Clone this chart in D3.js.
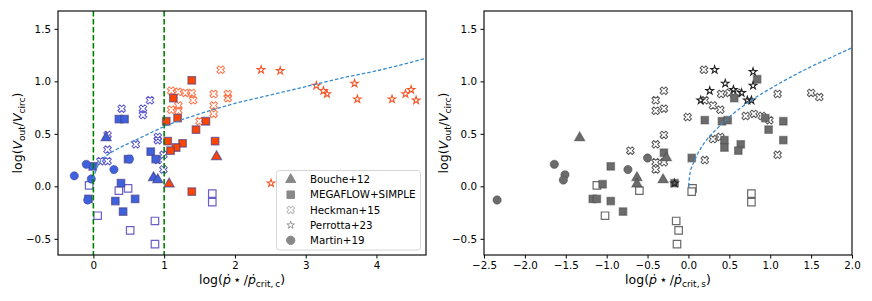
<!DOCTYPE html>
<html lang="en">
<head>
<meta charset="UTF-8">
<script src="https://d3js.org/d3.v7.min.js"></script>
<style>
  body { margin: 0; background: #fff; }
  svg { font-family: "DejaVu Sans", sans-serif; }
</style>
</head>
<body>
<div id="chart"></div>
<script>
// ---- left panel: x = log(pdot*/pdot_crit,c) ----
const leftBouche = [[0.18,0.47],[0.85,0.09],[0.91,0.07],[1.07,0.03],[1.74,0.29]];
const leftMegaflow = [[-0.07,-0.12],[-0.01,0.19],[0.36,0.64],[0.44,0.64],[0.49,0.26],[0.81,0.33],[0.88,0.26],
  [0.39,0.03],[0.31,-0.14],[0.59,-0.12],[0.42,-0.24],
  [1.39,1.01],[1.13,0.84],[1.19,0.65],[1.03,0.62],[1.59,0.62],[1.45,0.54],[1.05,0.43],[1.26,0.41],
  [1.17,0.37],[1.09,0.34],[1.72,0.43],[1.39,-0.05]];
const leftMegaflowOpen = [[-0.06,0.01],[0.36,-0.04],[0.49,-0.02],[0.06,-0.28],[0.52,-0.42],[0.87,-0.33],
  [0.87,-0.55],[1.68,-0.07],[1.68,-0.15]];
const leftHeckman = [[0.20,0.49],[0.40,0.74],[0.70,0.74],[0.70,0.68],[0.80,0.82],[0.20,0.35],[0.60,0.40],
  [0.91,0.47],[0.91,0.44],[0.10,0.24],[0.20,0.24],[0.91,0.25],[0.99,0.30],[0.99,0.16],
  [1.80,1.11],[1.10,0.91],[1.20,0.90],[1.30,0.89],[1.39,0.89],[1.41,0.82],[1.70,0.88],[1.90,0.88],
  [1.90,0.84],[1.20,0.77],[1.70,0.77],[1.10,0.73],[1.20,0.72],[1.70,0.69],[1.50,0.62]];
const leftPerrotta = [[2.37,1.11],[2.64,1.10],[3.15,0.96],[3.25,0.91],[3.30,0.88],[3.69,0.98],[3.73,0.83],
  [4.22,0.83],[4.41,0.88],[4.49,0.92],[4.56,0.82],[2.51,0.03]];
const leftMartin = [[-0.27,0.10],[-0.10,0.21],[-0.03,0.07],[-0.08,-0.13],[0.29,0.16],[0.51,0.26]];
const leftModelX = [0, 0.05, 0.1, 0.2, 0.35, 0.5, 0.75, 1.0, 1.5, 2.0, 2.5, 3.0, 3.5, 4.0, 4.7];
const leftModelY = [0.07, 0.18, 0.24, 0.30, 0.36, 0.41, 0.49, 0.57, 0.69, 0.79, 0.87, 0.95, 1.03, 1.10, 1.22];
const leftVLines = [0, 1];

// ---- right panel: x = log(pdot*/pdot_crit,s) ----
const rightBouche = [[-1.33,0.47],[-0.63,0.09],[-0.63,0.03],[-0.31,0.07],[-0.27,0.28]];
const rightMegaflow = [[-0.95,0.19],[-1.05,0.02],[-1.17,-0.12],[-1.12,-0.12],[-0.95,-0.14],[-0.80,-0.24],
  [-0.30,0.32],[-0.17,0.03],[0.84,1.02],[0.56,0.84],[0.20,0.63],[0.41,0.62],[0.48,0.63],[0.94,0.65],
  [1.16,0.62],[0.98,0.54],[1.16,0.44],[0.44,0.44],[0.44,0.37],[0.64,0.40],[0.61,0.34],[0.04,0.27]];
const rightMegaflowOpen = [[-1.12,0.01],[-0.60,-0.04],[-1.02,-0.28],[-0.15,-0.33],[-0.12,-0.42],[-0.14,-0.55],
  [0.05,-0.02],[0.04,-0.05],[0.77,-0.07],[0.77,-0.15]];
const rightHeckman = [[-0.30,0.91],[-0.40,0.82],[-0.40,0.72],[-0.30,0.74],[-0.01,0.66],[-0.30,0.49],[-0.40,0.40],
  [-0.71,0.34],[-0.40,0.23],[-0.30,0.23],[-0.40,0.16],[0.19,1.11],[0.40,0.88],[0.50,0.89],[0.60,0.89],
  [0.20,0.82],[0.30,0.77],[0.39,0.73],[1.09,0.88],[1.50,0.89],[1.60,0.85],[0.70,0.67],[0.80,0.69],
  [0.90,0.67],[0.99,0.63],[0.30,0.45],[0.39,0.47],[0.20,0.25],[1.09,0.30]];
const rightPerrotta = [[0.32,1.11],[0.79,1.09],[0.79,0.96],[0.45,0.98],[0.26,0.91],[0.55,0.92],[0.65,0.89],
  [0.15,0.82],[0.72,0.82],[0.77,0.82],[-0.17,0.03]];
const rightMartin = [[-2.34,-0.13],[-1.64,0.21],[-1.51,0.11],[-1.53,0.06],[-0.74,0.16],[-0.50,0.27]];
const rightModelX = [0, 0.02, 0.05, 0.1, 0.2, 0.35, 0.5, 0.75, 1.0, 1.25, 1.5, 1.75, 2.0];
const rightModelY = [0, 0.13, 0.20, 0.29, 0.42, 0.55, 0.66, 0.81, 0.93, 1.04, 1.14, 1.23, 1.32];

const legendLabels = ["Bouche+12", "MEGAFLOW+SIMPLE", "Heckman+15", "Perrotta+23", "Martin+19"];
const leftXTicks = [0, 1, 2, 3, 4];
const rightXTicks = [-2.5, -2.0, -1.5, -1.0, -0.5, 0.0, 0.5, 1.0, 1.5, 2.0];
const yTicks = [-0.5, 0.0, 0.5, 1.0, 1.5];

const W = 872, H = 301;
const plotTop = 11, plotBottom = 255;
const svg = d3.select("#chart").append("svg").attr("width", W).attr("height", H);

const y = d3.scaleLinear().domain([-0.654, 1.67]).range([plotBottom, plotTop]);

const sym = {
  tri: d3.symbol(d3.symbolTriangle, 44)(),
  sq: d3.symbol(d3.symbolSquare, 56)(),
  circ: d3.symbol(d3.symbolCircle, 54)(),
  cross: d3.symbol(d3.symbolCross, 36)(),
  star: d3.symbol(d3.symbolStar, 18)()
};

function marks(g, x, data, shape, style) {
  const s = g.append("g").selectAll("path").data(data).join("path")
    .attr("d", sym[shape])
    .attr("transform", d => `translate(${x(d[0])},${y(d[1])})` + (shape === "cross" ? " rotate(45)" : "") + (shape === "tri" ? " translate(0,0.8)" : ""));
  Object.entries(style).forEach(([k, v]) => s.attr(k, v));
  return s;
}

function panel(x0, x1, xDomain, xTicks, xFmt, subLabel) {
  const x = d3.scaleLinear().domain(xDomain).range([x0, x1]);
  const g = svg.append("g");
  g.append("clipPath").attr("id", "clip" + x0).append("rect")
    .attr("x", x0).attr("y", plotTop).attr("width", x1 - x0).attr("height", plotBottom - plotTop);

  const xAxis = d3.axisBottom(x).tickValues(xTicks).tickFormat(xFmt).tickSizeInner(3.5).tickSizeOuter(0).tickPadding(3.5);
  const yAxis = d3.axisLeft(y).tickValues(yTicks).tickFormat(d3.format(".1f")).tickSizeInner(3.5).tickSizeOuter(0).tickPadding(3.5);
  const ax = g.append("g").attr("transform", `translate(0,${plotBottom})`).call(xAxis);
  const ay = g.append("g").attr("transform", `translate(${x0},0)`).call(yAxis);
  [ax, ay].forEach(a => {
    a.selectAll("text").attr("font-size", 10.3).attr("fill", "#000").attr("font-family", "DejaVu Sans");
    a.selectAll("line").attr("stroke", "#000").attr("stroke-width", 1);
    a.select(".domain").remove();
  });

  // x label
  const xl = g.append("text").attr("x", (x0 + x1) / 2).attr("y", 284).attr("text-anchor", "middle")
    .attr("font-size", 12.5).attr("fill", "#000");
  xl.append("tspan").text("log(");
  xl.append("tspan").attr("font-style", "italic").text("\u1e57");
  xl.append("tspan").text("\u2009\u22c6\u2009/");
  xl.append("tspan").attr("font-style", "italic").text("\u1e57");
  xl.append("tspan").attr("font-size", 9).attr("dy", 3).text("crit,\u2009" + subLabel);
  xl.append("tspan").attr("dy", -3).text(")");

  // y label
  const yl = g.append("text").attr("transform", `translate(${x0 - 36},${(plotTop + plotBottom) / 2}) rotate(-90)`)
    .attr("text-anchor", "middle").attr("font-size", 12.5).attr("fill", "#000");
  yl.append("tspan").text("log(");
  yl.append("tspan").attr("font-style", "italic").text("V");
  yl.append("tspan").attr("font-size", 9).attr("dy", 3).text("out");
  yl.append("tspan").attr("dy", -3).text("/");
  yl.append("tspan").attr("font-style", "italic").text("V");
  yl.append("tspan").attr("font-size", 9).attr("dy", 3).text("circ");
  yl.append("tspan").attr("dy", -3).text(")");

  const plot = g.append("g").attr("clip-path", `url(#clip${x0})`);
  return { x, g, plot };
}

// ---------- left ----------
const L = panel(58, 426, [-0.5, 4.7], leftXTicks, d3.format("d"), "c");
const blue = "#3d62dc", red = "#ff4500", edgeL = "#483d8b";
const colL = d => d[0] < 1 ? blue : red;
marks(L.plot, L.x, leftHeckman, "cross", { fill: "none", stroke: d => d[0] < 1 ? "#5a55cf" : "#ff7448", "stroke-width": 1 });
marks(L.plot, L.x, leftPerrotta, "star", { fill: "none", stroke: "#f2582a", "stroke-width": 1.1 });
marks(L.plot, L.x, leftMegaflowOpen, "sq", { fill: "#fff", stroke: "#6a5fc8", "stroke-width": 1.2 });
marks(L.plot, L.x, leftMegaflow, "sq", { fill: colL, stroke: edgeL, "stroke-width": 1.3, "stroke-opacity": 0.65 });
marks(L.plot, L.x, leftBouche, "tri", { fill: colL, stroke: edgeL, "stroke-width": 1.2, "stroke-opacity": 0.7 });
marks(L.plot, L.x, leftMartin, "circ", { fill: blue, stroke: edgeL, "stroke-width": 1, "stroke-opacity": 0.5 });

L.plot.selectAll(".vl").data(leftVLines).join("line").attr("class", "vl")
  .attr("x1", d => L.x(d)).attr("x2", d => L.x(d)).attr("y1", plotTop).attr("y2", plotBottom)
  .attr("stroke", "#008000").attr("stroke-width", 1.6).attr("stroke-dasharray", "5.5,2.5");

const lineL = d3.line().x(i => L.x(leftModelX[i])).y(i => y(leftModelY[i])).curve(d3.curveMonotoneX);
L.plot.append("path").attr("d", lineL(d3.range(leftModelX.length)))
  .attr("fill", "none").attr("stroke", "#3a8ccc").attr("stroke-width", 1.3).attr("stroke-dasharray", "3.5,2");

// ---------- right ----------
const R = panel(484, 852, [-2.5, 2.0], rightXTicks, d3.format(".1f"), "s");
const gray = "#6c6c6c", grayEdge = "#4a4a4a";
marks(R.plot, R.x, rightHeckman, "cross", { fill: "none", stroke: "#555", "stroke-width": 1 });
marks(R.plot, R.x, rightMegaflowOpen, "sq", { fill: "#fff", stroke: "#6a6a6a", "stroke-width": 1.2 });
marks(R.plot, R.x, rightMegaflow, "sq", { fill: gray, stroke: grayEdge, "stroke-width": 1.3, "stroke-opacity": 0.5 });
marks(R.plot, R.x, rightPerrotta, "star", { fill: "none", stroke: "#222", "stroke-width": 1.1 });
marks(R.plot, R.x, rightBouche, "tri", { fill: gray, stroke: grayEdge, "stroke-width": 1.2, "stroke-opacity": 0.6 });
marks(R.plot, R.x, rightMartin, "circ", { fill: gray, stroke: grayEdge, "stroke-width": 1, "stroke-opacity": 0.5 });

const lineR = d3.line().x(i => R.x(rightModelX[i])).y(i => y(rightModelY[i])).curve(d3.curveMonotoneX);
R.plot.append("path").attr("d", lineR(d3.range(rightModelX.length)))
  .attr("fill", "none").attr("stroke", "#3a8ccc").attr("stroke-width", 1.3).attr("stroke-dasharray", "3.5,2");

// frames
[[58, 426], [484, 852]].forEach(([a, b]) => {
  svg.append("rect").attr("x", a).attr("y", plotTop).attr("width", b - a).attr("height", plotBottom - plotTop)
    .attr("fill", "none").attr("stroke", "#111").attr("stroke-width", 1.2);
});

// legend
const lg = svg.append("g");
lg.append("rect").attr("x", 276.5).attr("y", 170.5).attr("width", 144).attr("height", 79.5).attr("rx", 3)
  .attr("fill", "#fff").attr("fill-opacity", 0.85).attr("stroke", "#d6d6d6").attr("stroke-width", 1);
const legendShapes = ["tri", "sq", "cross", "star", "circ"];
const legendStyle = [
  { fill: "#888", stroke: "#888" }, { fill: "#888", stroke: "#888" },
  { fill: "none", stroke: "#bdbdbd" }, { fill: "none", stroke: "#9a9a9a" }, { fill: "#888", stroke: "#888" }
];
legendLabels.forEach((t, i) => {
  const cy = 179.5 + i * 15.2;
  lg.append("path").attr("d", sym[legendShapes[i]])
    .attr("transform", `translate(290.7,${cy})` + (legendShapes[i] === "cross" ? " rotate(45)" : ""))
    .attr("fill", legendStyle[i].fill).attr("stroke", legendStyle[i].stroke).attr("stroke-width", 1);
  lg.append("text").attr("x", 310).attr("y", cy).attr("dy", "0.36em")
    .attr("font-size", 10.3).attr("fill", "#000").text(t);
});
</script>
</body>
</html>
